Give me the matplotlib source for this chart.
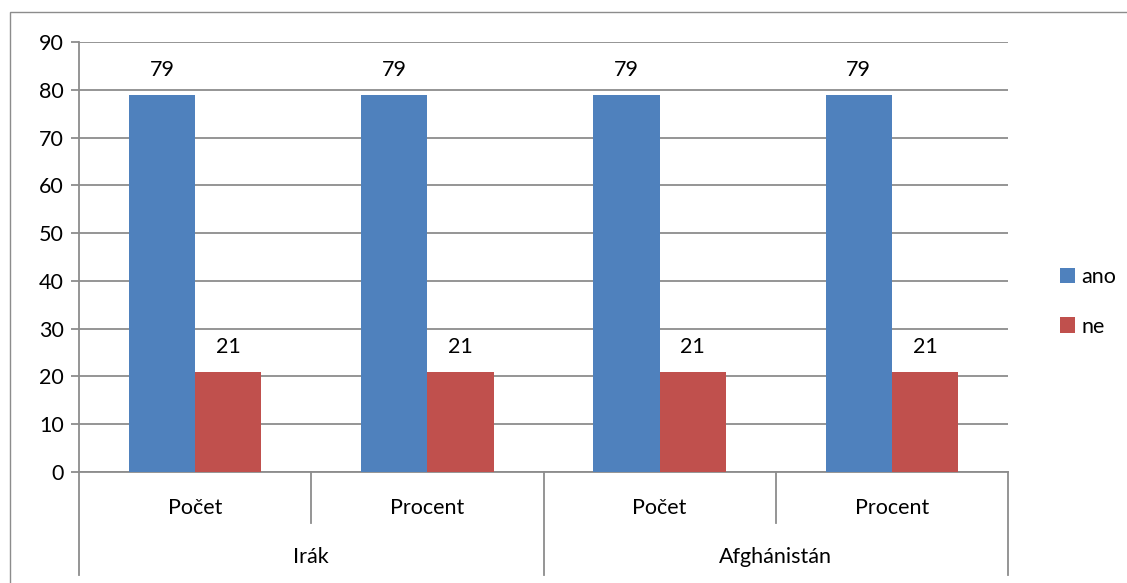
import matplotlib.pyplot as plt
from matplotlib.patches import Rectangle
import numpy as np

plt.rcParams['font.family'] = ['Lato', 'DejaVu Sans']

# data
groups = ['Irák', 'Afghánistán']
subcats = ['Počet', 'Procent', 'Počet', 'Procent']
ano = [79, 79, 79, 79]
ne = [21, 21, 21, 21]
series_names = ['ano', 'ne']
yticks = list(range(0, 91, 10))

W, H = 1127, 583
FS = 15.5
fig = plt.figure(figsize=(W / 100, H / 100), dpi=100)

# outer chart border
fig.patches.append(Rectangle((10 / W, -0.05), 1.2, (583 - 12) / H + 0.05,
                             transform=fig.transFigure, fill=False,
                             edgecolor='#8c8c8c', linewidth=1.0))

ax = fig.add_axes([79 / W, (583 - 472) / H, (1008 - 79) / W, (472 - 42) / H])

grey = '#8c8c8c'
x = np.arange(len(subcats))
bw = 0.285
b1 = ax.bar(x - bw / 2, ano, bw, color='#4F81BD', label=series_names[0], zorder=3)
b2 = ax.bar(x + bw / 2, ne, bw, color='#C0504D', label=series_names[1], zorder=3)

for bars in (b1, b2):
    for r in bars:
        ax.annotate(f'{r.get_height():.0f}', (r.get_x() + r.get_width() / 2, r.get_height()),
                    xytext=(0, 18), textcoords='offset points',
                    ha='center', va='center', fontsize=FS)

ax.set_xlim(-0.5, len(subcats) - 0.5)
ax.set_ylim(0, 90)
ax.set_yticks(yticks)
ax.yaxis.grid(True, color=grey, linewidth=1.3, zorder=0)
ax.set_axisbelow(True)
ax.tick_params(axis='y', length=6, width=1.3, color=grey, labelsize=FS, pad=5)
ax.set_xticks([])

for s in ['top', 'right']:
    ax.spines[s].set_visible(False)
ax.spines['left'].set_color(grey)
ax.spines['left'].set_linewidth(1.3)
ax.spines['bottom'].set_color(grey)
ax.spines['bottom'].set_linewidth(1.3)

# multi-level category axis
tr = ax.get_xaxis_transform()
for i in range(len(subcats) + 1):
    xe = i - 0.5
    low = -0.24 if i % 2 == 0 else -0.119
    ax.plot([xe, xe], [0, low], transform=tr, color=grey, linewidth=1.3, clip_on=False)
for i, lab in enumerate(subcats):
    ax.text(i, -0.084, lab, transform=tr, ha='center', va='center', fontsize=FS)
for g, lab in enumerate(groups):
    ax.text(2 * g + 0.5, -0.198, lab, transform=tr, ha='center', va='center', fontsize=FS)

ax.legend(loc='center left', bbox_to_anchor=(1049 / W, (583 - 302) / H),
          bbox_transform=fig.transFigure, frameon=False, fontsize=FS,
          handlelength=0.7, handleheight=0.7, handletextpad=0.3,
          labelspacing=1.35, borderpad=0)

fig.savefig('out.png', dpi=100)
